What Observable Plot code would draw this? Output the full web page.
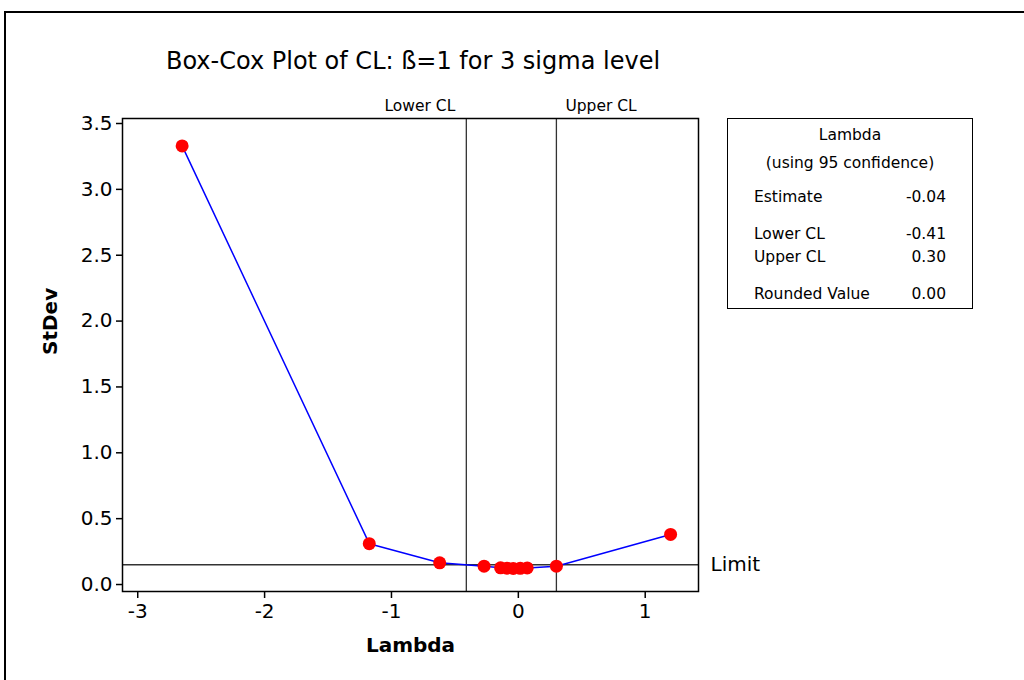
<!DOCTYPE html>
<html><head><meta charset="utf-8">
<script src="https://cdn.jsdelivr.net/npm/d3@7"></script>
<script src="https://cdn.jsdelivr.net/npm/@observablehq/plot@0.6"></script>
<style>
body{margin:0;background:#fff;font-family:"DejaVu Sans",sans-serif;color:#000;}
#wrap{position:relative;width:1024px;height:680px;overflow:hidden;}
#border{position:absolute;left:4px;top:11px;width:1100px;height:700px;border-left:2px solid #000;border-top:2px solid #000;}
#chart{position:absolute;left:0;top:0;}
#chart svg{background:transparent;}
#title{position:absolute;left:0;width:826px;top:46px;text-align:center;font-size:24px;line-height:30px;}
#legend{position:absolute;left:727px;top:118px;width:246px;height:191px;border:1.5px solid #000;box-sizing:border-box;font-size:15.5px;}
#legend .c{position:absolute;left:0;width:100%;text-align:center;}
#legend .l{position:absolute;left:26px;}
#legend .r{position:absolute;right:26px;text-align:right;}
</style>
</head><body>
<div id="wrap">
  <div id="border"></div>
  <div id="chart"></div>
  <div id="title"></div>
  <div id="legend"></div>
</div>
<script>
// ---- data ----
const titleText = "Box-Cox Plot of CL: ß=1 for 3 sigma level";
const lambdaVals = [-2.65, -1.175, -0.62, -0.27, -0.14, -0.09, -0.04, 0.015, 0.07, 0.30, 1.20];
const stdevVals  = [3.33, 0.31, 0.165, 0.139, 0.127, 0.124, 0.122, 0.123, 0.126, 0.139, 0.38];
const lowerCL = -0.41;
const upperCL = 0.30;
const limitVal = 0.15;
const xTicks = [-3, -2, -1, 0, 1];
const yTicks = [0, 0.5, 1.0, 1.5, 2.0, 2.5, 3.0, 3.5];
const legendTitle = "Lambda";
const legendSub = "(using 95 confidence)";
const legendLabels = ["Estimate", "Lower CL", "Upper CL", "Rounded Value"];
const legendValues = ["-0.04", "-0.41", "0.30", "0.00"];

const pts = lambdaVals.map((l, i) => ({lambda: l, stdev: stdevVals[i]}));
const FONT = '"DejaVu Sans",sans-serif';

const chart = Plot.plot({
  width: 1024, height: 680,
  marginLeft: 122, marginRight: 326, marginTop: 118, marginBottom: 89,
  style: {fontFamily: FONT, background: "transparent", color: "#000"},
  x: {domain: [-3.12, 1.42]},
  y: {domain: [-0.053, 3.538]},
  marks: [
    Plot.axisX({ticks: xTicks, tickFormat: d => String(d), tickSize: 7, tickPadding: 5, fontSize: 20, label: null, strokeWidth: 1.5}),
    Plot.axisY({ticks: yTicks, tickFormat: d3.format(".1f"), tickSize: 6, tickPadding: 4, fontSize: 20, label: null, strokeWidth: 1.5}),
    Plot.ruleX([lowerCL, upperCL], {stroke: "#333", strokeWidth: 1.3}),
    Plot.ruleY([limitVal], {stroke: "#333", strokeWidth: 1.3}),
    Plot.frame({stroke: "#000", strokeWidth: 1.5}),
    Plot.line(pts, {x: "lambda", y: "stdev", stroke: "#0000ff", strokeWidth: 1.5}),
    Plot.dot(pts, {x: "lambda", y: "stdev", r: 6.5, fill: "#ff0000", stroke: "none"}),
    Plot.text(["Lower CL"], {x: [lowerCL], frameAnchor: "top", dy: -19, dx: -11, textAnchor: "end", fontSize: 15.5}),
    Plot.text(["Upper CL"], {x: [upperCL], frameAnchor: "top", dy: -19, dx: 9, textAnchor: "start", fontSize: 15.5}),
    Plot.text(["Limit"], {frameAnchor: "right", y: [limitVal], dx: 12, textAnchor: "start", fontSize: 20}),
    Plot.text(["Lambda"], {frameAnchor: "bottom", dy: 60, fontSize: 20, fontWeight: "bold"}),
    Plot.text(["StDev"], {frameAnchor: "left", dx: -72, rotate: -90, fontSize: 20, fontWeight: "bold"})
  ]
});
document.getElementById("chart").appendChild(chart);
document.getElementById("title").textContent = titleText;

const lg = document.getElementById("legend");
function add(cls, top, txt) { const d = document.createElement("div"); d.className = cls; d.style.top = top + "px"; d.textContent = txt; lg.appendChild(d); }
add("c", 7, legendTitle);
add("c", 35, legendSub);
const rowTops = [69, 106, 129, 166];
legendLabels.forEach((t, i) => { add("l", rowTops[i], t); add("r", rowTops[i], legendValues[i]); });
</script>
</body></html>
